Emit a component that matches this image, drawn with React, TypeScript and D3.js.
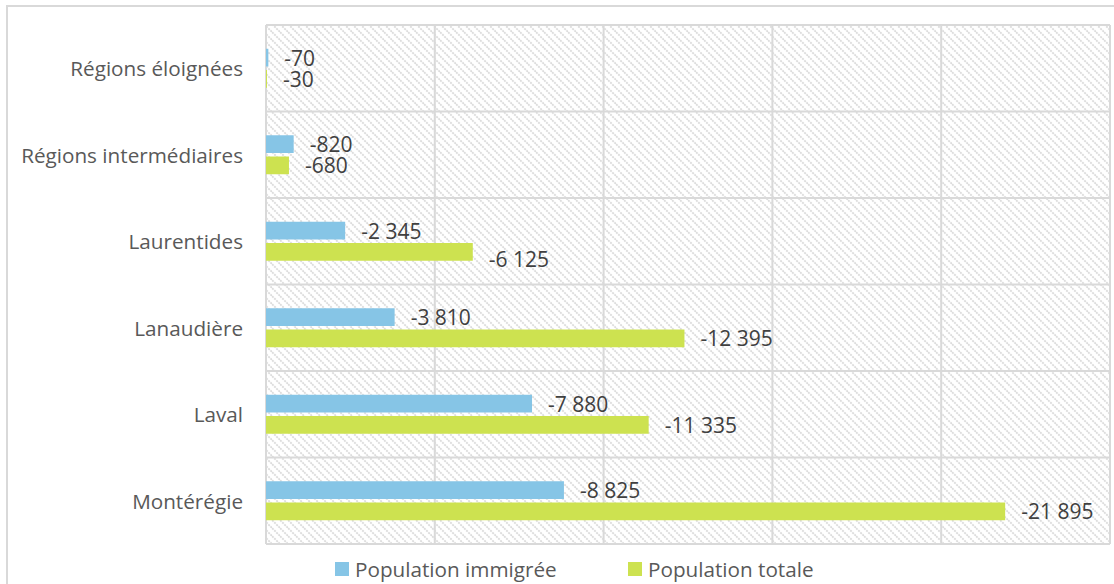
import React from "react";
import * as d3 from "d3";

const categories = [
  "Régions éloignées",
  "Régions intermédiaires",
  "Laurentides",
  "Lanaudière",
  "Laval",
  "Montérégie",
];
const seriesNames = ["Population immigrée", "Population totale"];
const immigrantValues = [-70, -820, -2345, -3810, -7880, -8825];
const totalValues = [-30, -680, -6125, -12395, -11335, -21895];
const xTicks = [0, 5000, 10000, 15000, 20000, 25000];

const colors = ["#86c5e6", "#cde250"];
const W = 1114;
const H = 584;
const plot = { left: 266, right: 1110, top: 25, bottom: 544 };

const fr = d3.formatLocale({
  decimal: ",",
  thousands: "\u00a0",
  grouping: [3],
  currency: ["", " $"],
  minus: "-",
});
const fmt = fr.format(",d");

// manual label nudges (category index, series index) -> dy
const labelNudge: Record<string, number> = { "2-1": 7 };

export default function App() {
  const x = d3.scaleLinear().domain([0, 25000]).range([plot.left, plot.right]);
  const y = d3
    .scaleBand<string>()
    .domain(categories)
    .range([plot.top, plot.bottom])
    .paddingInner(0)
    .paddingOuter(0);
  const bw = y.bandwidth();
  const inner = d3
    .scaleBand<string>()
    .domain(seriesNames)
    .range([(bw - 39) / 2, (bw + 39) / 2])
    .paddingInner(0.165);
  const seriesValues = [immigrantValues, totalValues];
  const font = "'Open Sans', 'DejaVu Sans', sans-serif";

  return (
    <svg width={W} height={H} style={{ position: "absolute", left: 0, top: 0 }}>
      <defs>
        <pattern id="hatch" width="8" height="8" patternUnits="userSpaceOnUse">
          <rect width="8" height="8" fill="#ffffff" />
          <path
            d="M-2,-2 L10,10 M-2,6 L2,10 M6,-2 L10,2"
            stroke="#dcdcdc"
            strokeWidth="1.8"
            strokeDasharray="2,1"
          />
        </pattern>
      </defs>
      <rect x={0} y={0} width={W} height={H} fill="#ffffff" />
      <rect x={7} y={6} width={1130} height={620} fill="#ffffff" stroke="#d9d9d9" strokeWidth={2} />
      <rect
        x={plot.left}
        y={plot.top}
        width={plot.right - plot.left}
        height={plot.bottom - plot.top}
        fill="url(#hatch)"
      />
      {/* gridlines */}
      {xTicks.map((t) => (
        <line
          key={"v" + t}
          x1={x(t)}
          x2={x(t)}
          y1={plot.top}
          y2={plot.bottom}
          stroke="#d9d9d9"
          strokeWidth={2}
        />
      ))}
      {categories.map((c) => (
        <line
          key={"h" + c}
          x1={plot.left}
          x2={plot.right}
          y1={y(c)!}
          y2={y(c)!}
          stroke="#d9d9d9"
          strokeWidth={2}
        />
      ))}
      <line x1={plot.left} x2={plot.right} y1={plot.bottom} y2={plot.bottom} stroke="#d9d9d9" strokeWidth={2} />
      {/* bars */}
      {categories.map((c, i) =>
        seriesNames.map((s, j) => {
          const v = seriesValues[j][i];
          const by = y(c)! + inner(s)!;
          return (
            <rect
              key={c + s}
              x={x(0)}
              y={by}
              width={x(Math.abs(v)) - x(0)}
              height={inner.bandwidth()}
              fill={colors[j]}
            />
          );
        })
      )}
      {/* value labels */}
      {categories.map((c, i) =>
        seriesNames.map((s, j) => {
          const v = seriesValues[j][i];
          const by = y(c)! + inner(s)! + inner.bandwidth() / 2;
          const dy = labelNudge[`${i}-${j}`] || 0;
          return (
            <text
              key={"l" + c + s}
              x={x(Math.abs(v)) + 16}
              y={by + dy}
              dominantBaseline="central"
              fontFamily={font}
              fontSize={21}
              fill="#404040"
            >
              {fmt(v)}
            </text>
          );
        })
      )}
      {/* category labels */}
      {categories.map((c) => (
        <text
          key={"c" + c}
          x={243}
          y={y(c)! + bw / 2}
          textAnchor="end"
          dominantBaseline="central"
          fontFamily={font}
          fontSize={20.7}
          fill="#595959"
        >
          {c}
        </text>
      ))}
      {/* legend */}
      {seriesNames.map((s, j) => {
        const lx = [335, 628][j];
        return (
          <g key={"lg" + s}>
            <rect x={lx} y={562} width={14} height={14} fill={colors[j]} />
            <text
              x={lx + 20}
              y={569}
              dominantBaseline="central"
              fontFamily={font}
              fontSize={20.7}
              fill="#595959"
            >
              {s}
            </text>
          </g>
        );
      })}
    </svg>
  );
}
